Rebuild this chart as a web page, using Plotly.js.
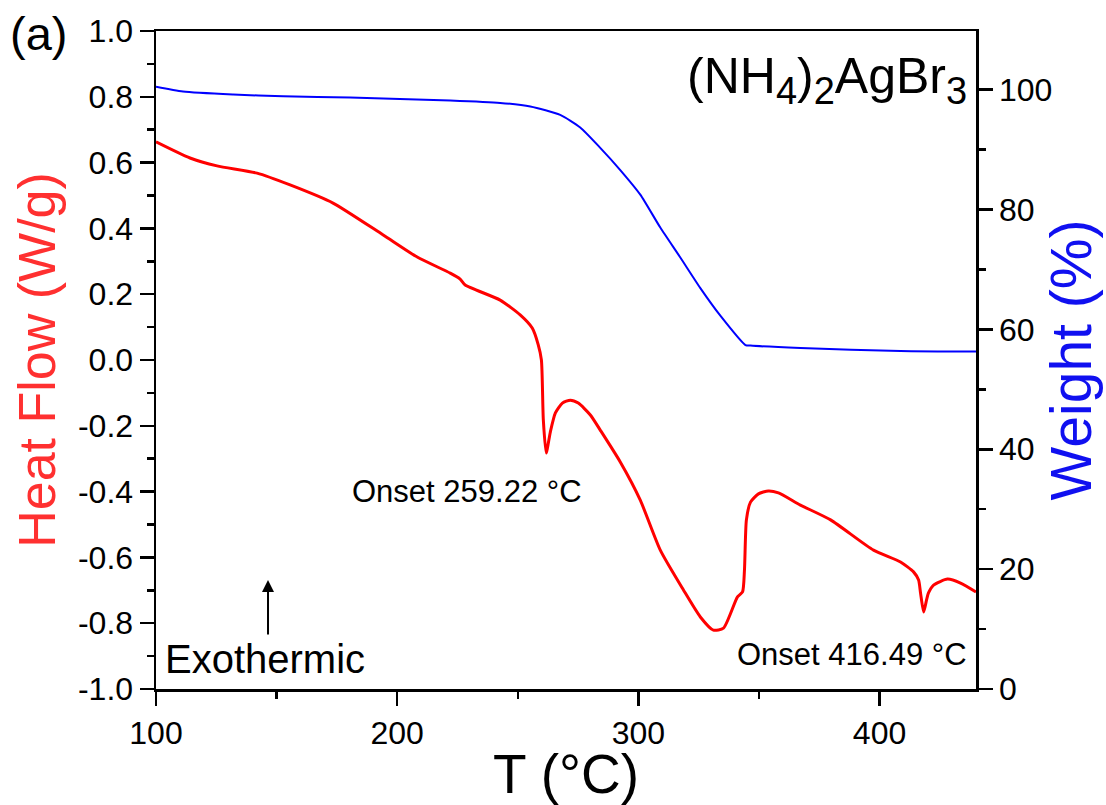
<!DOCTYPE html>
<html>
<head>
<meta charset="utf-8">
<script src="https://cdn.plot.ly/plotly-3.0.1.min.js"></script>
<style>html,body{margin:0;padding:0;background:#fff;}#chart{width:1106px;height:805px;}</style>
</head>
<body>
<div id="chart"></div>
<script>
// Heat flow (DSC) curve
const hfT = [100, 114.1, 125.3, 141.9, 155.6, 173.4, 194.2, 208.3, 222.0, 226.1, 228.2, 242.7, 251.0, 256.0, 258.5, 259.8, 260.6, 261.8, 263.5, 265.6, 268.5, 271.8, 275.1, 280.1, 284.2, 292.5, 300.8, 309.1, 318.7, 325.7, 331.1, 335.3, 341.1, 343.2, 344.0, 344.8, 346.5, 349.8, 353.9, 358.1, 367.2, 379.7, 397.5, 408.7, 414.1, 416.2, 417.0, 418.3, 419.5, 420.3, 422.4, 428.2, 433.6, 440.0];
const hfV = [0.663, 0.614, 0.590, 0.568, 0.532, 0.477, 0.380, 0.313, 0.264, 0.246, 0.228, 0.182, 0.137, 0.097, 0.046, 0.000, -0.182, -0.283, -0.219, -0.161, -0.131, -0.122, -0.131, -0.167, -0.213, -0.310, -0.426, -0.578, -0.699, -0.781, -0.821, -0.815, -0.720, -0.705, -0.638, -0.486, -0.432, -0.407, -0.398, -0.404, -0.441, -0.486, -0.578, -0.614, -0.644, -0.669, -0.708, -0.766, -0.729, -0.708, -0.684, -0.666, -0.678, -0.705];

// Weight (TGA) curve
const wT = [100, 111.2, 132, 152.7, 180.5, 222, 242.7, 255.2, 267.6, 275.9, 284.2, 292.5, 300.8, 309.1, 317.4, 325.7, 334, 344.4, 346.5, 367.2, 408.7, 440];
const wV = [100.5, 99.7, 99.2, 98.9, 98.7, 98.2, 97.8, 97.2, 95.8, 93.7, 90.3, 86.6, 82.5, 77.0, 72.0, 66.9, 62.3, 57.4, 57.3, 56.9, 56.4, 56.3];

// Tick labels
const xTicks = [100, 200, 300, 400];
const yTickVals = [-1.0, -0.8, -0.6, -0.4, -0.2, 0.0, 0.2, 0.4, 0.6, 0.8, 1.0];
const yTickText = ["-1.0", "-0.8", "-0.6", "-0.4", "-0.2", "0.0", "0.2", "0.4", "0.6", "0.8", "1.0"];
const y2Ticks = [0, 20, 40, 60, 80, 100];

const FONT = "Liberation Sans, Arial, sans-serif";

const traces = [
  {x: hfT, y: hfV, type: 'scatter', mode: 'lines', line: {color: '#ff0000', width: 3, shape: 'spline', smoothing: 0.6}, yaxis: 'y', showlegend: false, hoverinfo: 'skip'},
  {x: wT, y: wV, type: 'scatter', mode: 'lines', line: {color: '#0000ff', width: 2, shape: 'spline', smoothing: 0.6}, yaxis: 'y2', showlegend: false, hoverinfo: 'skip'}
];

const axCommon = {
  showline: true, linecolor: '#000', linewidth: 2.5,
  ticks: 'outside', ticklen: 14, tickwidth: 2.5, tickcolor: '#000',
  showgrid: false, zeroline: false,
  tickfont: {family: FONT, size: 32, color: '#000'}
};

const layout = {
  width: 1106, height: 805,
  margin: {l: 156, r: 130, t: 31, b: 116},
  paper_bgcolor: '#fff', plot_bgcolor: '#fff',
  font: {family: FONT, color: '#000'},
  xaxis: Object.assign({}, axCommon, {
    range: [100, 440], tickvals: xTicks, mirror: true,
    minor: {dtick: 50, tick0: 100, ticks: 'outside', ticklen: 7, tickwidth: 2.5, tickcolor: '#000', showgrid: false},
    title: {text: 'T (°C)', font: {family: FONT, size: 55, color: '#000'}, standoff: 5}
  }),
  yaxis: Object.assign({}, axCommon, {
    range: [-1, 1], tickvals: yTickVals, ticktext: yTickText,
    minor: {dtick: 0.1, tick0: -1, ticks: 'outside', ticklen: 7, tickwidth: 2.5, tickcolor: '#000', showgrid: false},
    title: {text: 'Heat Flow (W/g)', font: {family: FONT, size: 52, color: '#ff3030'}, standoff: 6}
  }),
  yaxis2: Object.assign({}, axCommon, {
    overlaying: 'y', side: 'right', range: [0, 109.8], tickvals: y2Ticks,
    minor: {dtick: 10, tick0: 0, ticks: 'outside', ticklen: 7, tickwidth: 2.5, tickcolor: '#000', showgrid: false},
    title: {text: 'Weight (%)', font: {family: FONT, size: 57, color: '#1010f0'}, standoff: 0}
  }),
  annotations: [
    {xref: 'paper', yref: 'paper', x: 0.992, y: 0.926, xanchor: 'right', yanchor: 'middle', showarrow: false,
     text: '(NH<sub><span style="font-size:38px">4</span></sub>)<sub><span style="font-size:38px">2</span></sub>AgBr<sub><span style="font-size:38px">3</span></sub>',
     font: {family: FONT, size: 50, color: '#000'}},
    {xref: 'paper', yref: 'paper', x: 0.2366, y: 0.3009, xanchor: 'left', yanchor: 'middle', showarrow: false,
     text: 'Onset 259.22 °C', font: {family: FONT, size: 31, color: '#000'}},
    {xref: 'paper', yref: 'paper', x: 0.992, y: 0.0517, xanchor: 'right', yanchor: 'middle', showarrow: false,
     text: 'Onset 416.49 °C', font: {family: FONT, size: 31, color: '#000'}},
    {xref: 'paper', yref: 'paper', x: 0.0085, y: 0.0456, xanchor: 'left', yanchor: 'middle', showarrow: false,
     text: 'Exothermic', font: {family: FONT, size: 40, color: '#000'}},
    {xref: 'paper', yref: 'paper', x: 0.1366, y: 0.1657, text: '', showarrow: true, ax: 0, ay: 56,
     arrowhead: 2, arrowsize: 1.2, arrowwidth: 2, arrowcolor: '#000'},
    {xref: 'paper', yref: 'paper', x: -0.1805, y: 0.996, xanchor: 'left', yanchor: 'middle', showarrow: false,
     text: '(a)', font: {family: FONT, size: 47, color: '#000'}}
  ]
};

Plotly.newPlot('chart', traces, layout, {displayModeBar: false, staticPlot: true});
</script>
</body>
</html>
